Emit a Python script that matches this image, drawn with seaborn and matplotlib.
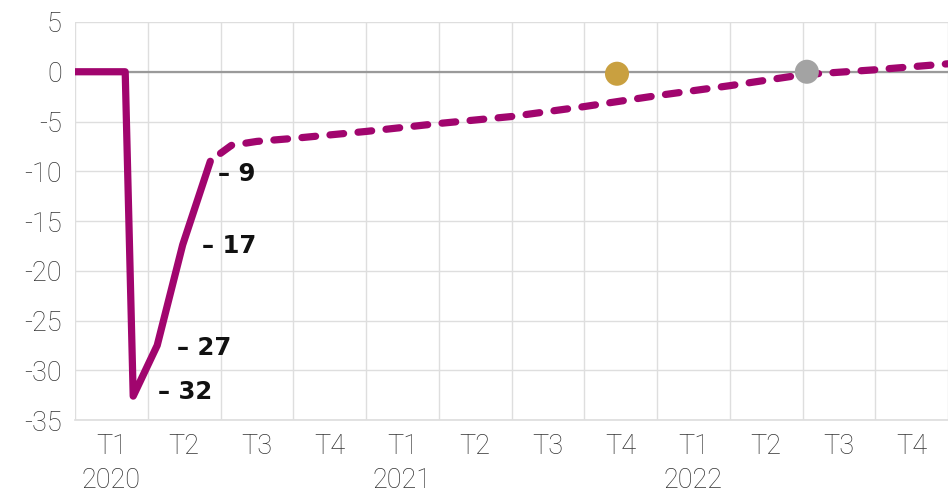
import pandas as pd
import seaborn as sns
from matplotlib import pyplot as plt

# x is in quarters since the start of 2020 (0 = start of T1 2020)
solid_x = [0.0, 0.69, 0.80, 1.13, 1.48, 1.86]
solid_y = [0.0, 0.0, -32.6, -27.5, -17.4, -9.0]

dash_x = [2.0, 2.15, 2.5, 3.0, 4.0, 5.0, 6.0, 7.0, 8.0, 9.0, 10.0, 11.0, 12.0]
dash_y = [-8.2, -7.4, -7.0, -6.7, -6.0, -5.2, -4.5, -3.5, -2.4, -1.4, -0.3, 0.2, 0.8]

point_x = [7.45, 10.06]
point_y = [-0.2, 0.0]
point_colors = ['#C9A040', '#A3A3A3']

labels = ['– 32', '– 27', '– 17', '– 9']
label_x = [1.14, 1.40, 1.75, 1.97]
label_y = [-32.2, -27.8, -17.5, -10.25]

quarters = ['T1', 'T2', 'T3', 'T4'] * 3
years = ['2020', '2021', '2022']

MAGENTA = '#A1056E'
TICK_GREY = '#333333'

sns.set_theme(style='white')
plt.rcParams['font.family'] = ['DejaVu Sans']

df_solid = pd.DataFrame({'q': solid_x, 'value': solid_y})
df_dash = pd.DataFrame({'q': dash_x, 'value': dash_y})
df_pts = pd.DataFrame({'q': point_x, 'value': point_y, 'kind': ['a', 'b']})

fig = plt.figure(figsize=(9.48, 4.93), dpi=100)
ax = fig.add_axes([75 / 948, 73 / 493, 873 / 948, 398 / 493])

# grid
for k in range(13):
    ax.axvline(k, color='#dedede', lw=1, zorder=0)
for v in range(-35, 6, 5):
    ax.axhline(v, color='#dedede', lw=1, zorder=0)
ax.axhline(0, color='#9a9a9a', lw=1.6, zorder=1)

sns.lineplot(data=df_solid, x='q', y='value', ax=ax, color=MAGENTA, lw=5.2,
             estimator=None, solid_capstyle='round', solid_joinstyle='round',
             zorder=3)
sns.lineplot(data=df_dash, x='q', y='value', ax=ax, color=MAGENTA, lw=5.2,
             estimator=None, linestyle=(0, (1.9, 2.0)),
             dash_capstyle='round', dash_joinstyle='round', zorder=3)
sns.scatterplot(data=df_pts, x='q', y='value', hue='kind',
                palette=point_colors, s=300, edgecolor='none', ax=ax,
                legend=False, zorder=4)

for txt, lx, ly in zip(labels, label_x, label_y):
    ax.text(lx, ly, txt, fontsize=17.5, fontweight='bold', color='#111111',
            ha='left', va='center', zorder=5)

ax.set_xlim(0, 12)
ax.set_ylim(-35, 5)
ax.set_yticks(range(-35, 6, 5))
ax.set_yticklabels([str(v) for v in range(-35, 6, 5)])
ax.set_xticks([k + 0.5 for k in range(12)])
ax.set_xticklabels(quarters)
ax.tick_params(axis='y', length=0, pad=9.5, labelsize=19.5,
               labelcolor=TICK_GREY)
ax.tick_params(axis='x', length=0, pad=9, labelsize=19.5,
               labelcolor=TICK_GREY)
for lab in ax.get_xticklabels() + ax.get_yticklabels():
    lab.set_family(['Roboto', 'DejaVu Sans'])
    lab.set_fontweight('light')

for i, yr in enumerate(years):
    ax.text(4 * i + 0.5, -0.153, yr, transform=ax.get_xaxis_transform(),
            ha='center', va='center', fontsize=19.5, fontweight='light',
            family=['Roboto', 'DejaVu Sans'], color=TICK_GREY)

ax.set_xlabel('')
ax.set_ylabel('')
for side in ['top', 'right', 'left']:
    ax.spines[side].set_visible(False)
ax.spines['bottom'].set_color('#dedede')

plt.savefig('out.png', dpi=100)
